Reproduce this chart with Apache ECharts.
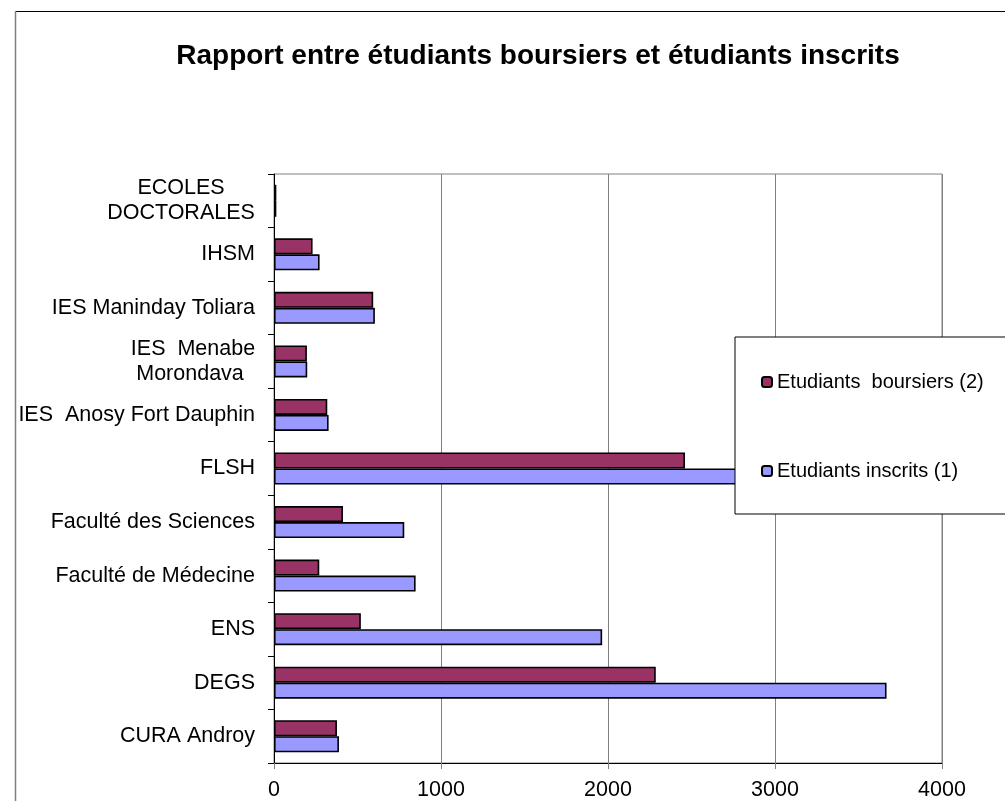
<!DOCTYPE html>
<html>
<head>
<meta charset="utf-8">
<script src="https://cdn.jsdelivr.net/npm/echarts@6/dist/echarts.min.js"></script>
<style>
html,body{margin:0;padding:0;background:#fff;}
#chart{width:1005px;height:801px;}
</style>
</head>
<body>
<div id="chart"></div>
<script>
// Categories, bottom to top
var categories = [
  "CURA Androy",
  "DEGS",
  "ENS",
  "Faculté de Médecine",
  "Faculté des Sciences",
  "FLSH",
  "IES  Anosy Fort Dauphin",
  "IES  Menabe\nMorondava ",
  "IES Maninday Toliara",
  "IHSM",
  "ECOLES\nDOCTORALES"
];
var boursiers = [377, 2286, 520, 271, 413, 2461, 319, 197, 594, 231, 14];
var inscrits  = [389, 3668, 1965, 848, 780, 2900, 327, 199, 604, 273, 14];
var seriesNames = ["Etudiants  boursiers (2)", "Etudiants inscrits (1)"];
var xTicks = [0, 1000, 2000, 3000, 4000];
var titleText = "Rapport entre étudiants boursiers et étudiants inscrits";

var FONT = "Liberation Sans, Arial, sans-serif";
var chart = echarts.init(document.getElementById('chart'), null, {renderer: 'canvas'});

var blockWidths = {"ECOLES\nDOCTORALES": 148, "IES  Menabe\nMorondava ": 124};

chart.setOption({
  backgroundColor: '#ffffff',
  animation: false,
  title: {
    text: titleText,
    left: 533,
    textAlign: 'center',
    top: 37,
    textStyle: {fontFamily: FONT, fontSize: 28, fontWeight: 'bold', color: '#000'}
  },
  legend: {
    orient: 'vertical',
    left: 735,
    top: 337,
    padding: [35, 40, 33, 26],
    itemGap: 69,
    itemWidth: 10,
    itemHeight: 10,
    backgroundColor: '#ffffff',
    borderColor: '#000',
    borderWidth: 1,
    data: seriesNames,
    textStyle: {fontFamily: FONT, fontSize: 20, color: '#000'}
  },
  grid: {
    left: 274, right: 63, top: 174, bottom: 35,
    show: true, borderColor: '#808080', borderWidth: 1,
    containLabel: false
  },
  xAxis: {
    type: 'value',
    min: xTicks[0], max: xTicks[xTicks.length - 1], interval: 1000,
    axisLine: {show: true, lineStyle: {color: '#000', width: 1}},
    axisTick: {show: true, length: 6, lineStyle: {color: '#808080'}},
    splitLine: {show: true, lineStyle: {color: '#808080', width: 1}},
    axisLabel: {
      fontFamily: FONT, fontSize: 21.5, color: '#000', margin: 16,
      formatter: function (v) { return String(v); }
    }
  },
  yAxis: {
    type: 'category',
    data: categories,
    axisLine: {show: true, lineStyle: {color: '#000', width: 1}},
    axisTick: {show: true, length: 6, lineStyle: {color: '#000'}},
    axisLabel: {
      fontFamily: FONT, fontSize: 21.5, color: '#000', margin: 19, lineHeight: 25,
      formatter: function (v) {
        if (v.indexOf('\n') >= 0) {
          var key = v === "ECOLES\nDOCTORALES" ? 'a' : 'b';
          return v.split('\n').map(function (l) { return '{' + key + '|' + l + '}'; }).join('\n');
        }
        return v;
      },
      rich: {
        a: {width: blockWidths["ECOLES\nDOCTORALES"], align: 'center', fontFamily: FONT, fontSize: 21.5, lineHeight: 25, color: '#000'},
        b: {width: blockWidths["IES  Menabe\nMorondava "], align: 'center', fontFamily: FONT, fontSize: 21.5, lineHeight: 25, color: '#000'}
      }
    }
  },
  series: [
    {
      name: seriesNames[0], type: 'bar', data: boursiers,
      barWidth: 16, barGap: '0%',
      itemStyle: {color: '#993366', borderColor: '#000', borderWidth: 1.6}
    },
    {
      name: seriesNames[1], type: 'bar', data: inscrits,
      barWidth: 16, barGap: '0%',
      itemStyle: {color: '#9999FF', borderColor: '#000', borderWidth: 1.6}
    }
  ],
  graphic: [
    {type: 'line', shape: {x1: 15, y1: 11.5, x2: 1005, y2: 11.5}, style: {stroke: '#000', lineWidth: 1}, z: 10},
    {type: 'line', shape: {x1: 15.5, y1: 11, x2: 15.5, y2: 801}, style: {stroke: '#808080', lineWidth: 1.5}, z: 10}
  ]
});
</script>
</body>
</html>
